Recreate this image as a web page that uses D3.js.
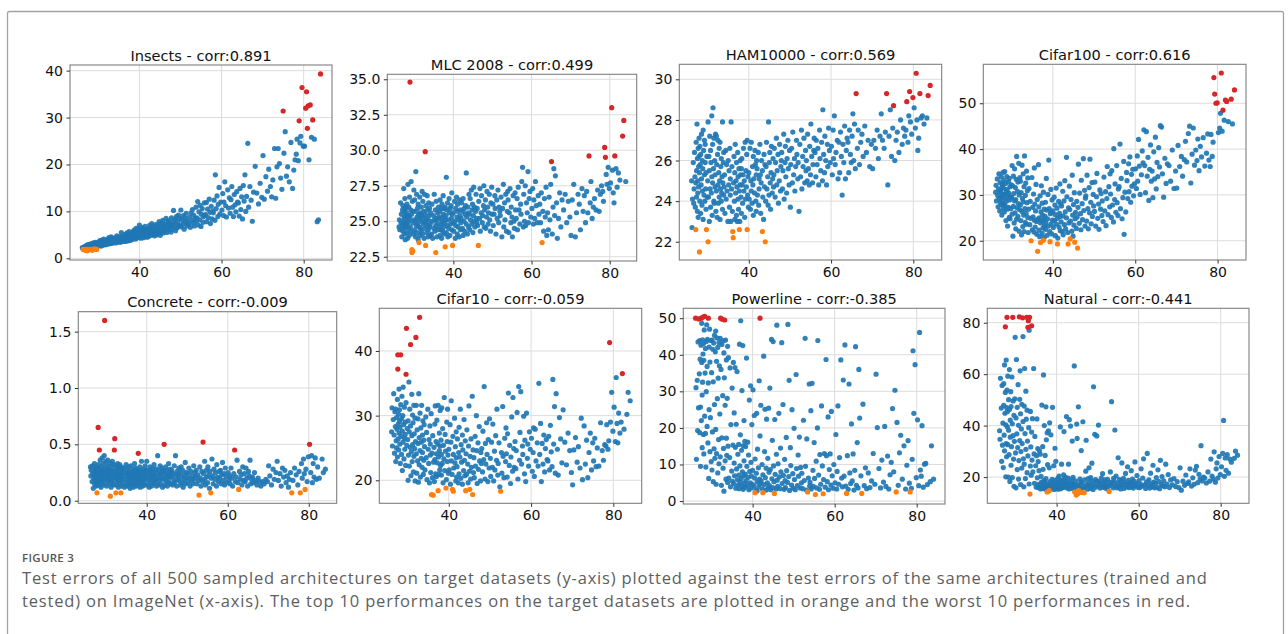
<!DOCTYPE html>
<html>
<head>
<meta charset="utf-8">
<script src="https://cdn.jsdelivr.net/npm/d3@7"></script>
<style>
  body { margin: 0; background: #fff; }
  svg { display: block; }
</style>
</head>
<body>
<svg id="fig" width="1288" height="634"></svg>
<script>
// ImageNet test error (%) of each sampled architecture, grouped in 2-point bins (26–28, 28–30, ... 82–84)
const imagenetErr = [
  [26.1,26.2,26.3,26.5,26.6,26.7,26.8,26.9,27.0,27.1,27.1,27.2,27.3,27.3,27.4,27.5,27.5,27.6,27.6,27.7,27.7,27.8,27.8,27.9,27.9,28.0],
  [28.0,28.1,28.1,28.2,28.3,28.3,28.4,28.5,28.5,28.6,28.7,28.7,28.8,28.9,28.9,29.0,29.1,29.2,29.2,29.3,29.4,29.4,29.5,29.6,29.6,29.7,29.8,29.9],
  [30.0,30.1,30.1,30.2,30.3,30.4,30.4,30.5,30.6,30.7,30.7,30.8,30.9,31.0,31.0,31.1,31.2,31.2,31.3,31.4,31.5,31.5,31.6,31.7,31.8,31.8,31.9,32.0],
  [32.1,32.1,32.2,32.3,32.4,32.5,32.5,32.6,32.7,32.8,32.8,32.9,33.0,33.0,33.1,33.2,33.3,33.3,33.4,33.5,33.6,33.6,33.7,33.8,33.9,33.9,34.0],
  [34.1,34.2,34.4,34.5,34.6,34.7,34.9,35.0,35.1,35.2,35.3,35.4,35.5,35.5,35.6,35.7,35.8,35.9,36.0,36.1,36.2,36.3],
  [36.4,36.5,36.6,36.6,36.7,36.8,36.9,37.0,37.0,37.1,37.2,37.3,37.4,37.4,37.5,37.6,37.7,37.7,37.8,37.9,37.9,38.0],
  [38.1,38.2,38.2,38.3,38.4,38.5,38.6,38.7,38.8,38.9,39.0,39.1,39.2,39.3,39.4,39.5,39.6,39.6,39.7,39.8,39.9],
  [40.0,40.1,40.3,40.4,40.5,40.6,40.6,40.8,40.9,41.0,41.1,41.1,41.2,41.4,41.5,41.6,41.7,41.8,41.8,41.9],
  [42.0,42.1,42.3,42.4,42.5,42.5,42.7,42.8,42.9,43.0,43.1,43.3,43.3,43.4,43.6,43.7,43.8,43.9,44.0],
  [44.1,44.2,44.3,44.4,44.6,44.7,44.8,44.9,45.0,45.1,45.2,45.3,45.4,45.5,45.7,45.8,45.9,46.0],
  [46.1,46.2,46.4,46.5,46.7,46.8,46.9,47.1,47.2,47.4,47.5,47.7,47.8,47.9],
  [48.0,48.2,48.3,48.5,48.6,48.8,48.9,49.0,49.2,49.3,49.5,49.6,49.8,49.9],
  [50.1,50.2,50.4,50.6,50.7,50.9,51.1,51.2,51.4,51.6,51.7,51.9],
  [52.0,52.2,52.4,52.6,52.8,52.9,53.1,53.2,53.4,53.6,53.8,53.9],
  [54.0,54.2,54.3,54.5,54.7,54.8,55.0,55.1,55.3,55.5,55.6,55.8,55.9],
  [56.1,56.3,56.4,56.6,56.8,57.0,57.2,57.3,57.5,57.7,57.9],
  [58.0,58.2,58.4,58.5,58.7,58.9,59.1,59.2,59.4,59.6,59.8],
  [60.1,60.3,60.5,60.6,60.8,61.0,61.2,61.5,61.7,61.9],
  [62.1,62.3,62.5,62.7,62.9,63.1,63.3,63.5,63.7,63.9],
  [64.1,64.3,64.5,64.7,64.9,65.1,65.3,65.5,65.7,65.9],
  [66.1,66.4,66.6,66.9,67.2,67.5,67.8],
  [68.2,68.6,69.0,69.4,69.8],
  [70.1,70.4,70.8,71.2,71.5,71.9],
  [72.2,72.5,72.9,73.2,73.5,73.8],
  [74.1,74.4,74.7,75.0,75.2,75.5,75.8],
  [76.1,76.5,76.9,77.3,77.6,77.9],
  [78.2,78.4,78.7,78.9,79.1,79.3,79.6,79.9],
  [80.2,80.5,80.7,80.9,81.1,81.3,81.6,81.9],
  [82.2,82.6,83.3,83.6,84.1]
];

// Target-dataset test errors, same architectures and same bin order
const insectsErr = [
  [2.3,2.2,1.9,2.4,1.8,2.5,2.1,1.7,2.6,2.3,1.9,2.8,2.4,1.6,2.2,2.7,2.5,2.9,1.8,2.3,2.6,3.0,2.4,2.7,2.2,2.5],
  [2.6,1.9,2.9,2.4,3.1,2.7,2.3,2.8,1.7,3.2,2.5,2.9,2.6,3.3,2.4,2.0,2.8,3.0,2.6,3.4,2.7,2.3,3.1,1.9,2.8,3.2,2.6,3.0],
  [3.1,2.7,3.5,2.9,3.3,3.8,2.8,3.2,3.6,3.0,2.6,3.4,3.9,3.1,2.8,3.5,3.3,3.0,4.1,3.2,2.9,3.6,3.4,3.1,3.8,2.9,3.5,3.3],
  [3.3,3.7,3.0,4.1,3.5,3.2,3.9,4.4,3.4,3.1,3.7,4.0,3.6,3.3,4.6,3.8,3.2,3.5,4.2,3.9,3.4,3.7,4.3,3.6,3.3,4.0,3.8],
  [3.6,4.2,3.3,4.8,3.9,4.4,3.5,4.1,4.6,3.8,4.3,3.4,4.0,3.7,5.5,4.5,3.9,4.2,3.6,4.9,4.1,3.8],
  [4.0,4.6,3.6,5.1,4.3,4.8,3.9,5.4,4.4,4.1,3.7,5.0,4.5,4.2,5.7,4.0,4.7,3.8,5.2,4.4,4.9,4.1],
  [4.3,5.0,4.0,5.6,4.6,5.3,4.2,6.0,4.8,4.5,5.5,4.1,6.4,4.9,5.2,4.4,5.8,4.7,6.2,5.1,4.5],
  [7.1,4.6,5.4,4.3,6.0,5.0,6.6,4.8,5.7,4.4,5.2,6.3,4.9,6.8,5.5,4.7,5.9,6.1,5.1,4.5],
  [5.0,6.2,4.7,5.6,7.0,5.3,6.5,4.9,5.9,7.4,5.4,6.1,5.1,6.8,5.7,4.8,6.4,5.5,7.2],
  [5.3,6.6,5.0,7.1,5.8,6.2,7.8,5.5,6.9,4.9,6.4,7.5,5.7,6.0,8.1,5.4,6.7,7.3],
  [5.8,7.2,6.4,8.5,5.5,6.9,7.7,6.1,8.0,6.6,7.4,5.6,8.6,7.0],
  [6.2,7.6,10.2,6.8,8.3,5.9,7.3,8.9,6.5,7.9,9.2,6.9,8.5,7.1],
  [10.3,6.7,8.2,7.3,9.1,6.2,8.6,7.7,9.6,6.9,8.0,7.4],
  [7.2,8.8,6.6,9.7,8.1,10.4,7.6,9.2,6.9,8.5,10.9,7.9],
  [8.6,12.1,7.1,9.9,8.2,11.3,6.8,9.4,10.6,7.7,8.9,11.8,9.1],
  [9.3,11.9,7.8,10.5,8.7,12.6,9.8,7.4,11.1,8.4,10.1],
  [9.7,12.4,8.1,17.8,10.6,13.3,8.9,11.5,15.1,9.4,12.0],
  [10.3,13.8,9.1,12.0,16.3,11.2,8.8,14.6,10.7,12.9],
  [9.6,12.5,15.3,10.9,8.9,13.6,11.4,9.9,14.2,12.0],
  [11.8,9.0,14.9,10.4,13.1,8.4,15.5,12.2,17.8,10.0],
  [13.2,24.5,10.9,15.3,12.4,7.9,14.1],
  [19.6,13.9,11.6,16.0,13.0],
  [21.9,12.6,17.4,14.3,19.0,15.3],
  [13.1,16.7,23.4,12.8,19.5,23.4],
  [20.2,17.1,14.7,31.4,22.4,27.0,17.5],
  [19.5,16.3,24.7,14.9,18.8,21.0],
  [22.2,25.4,20.8,29.3,24.6,26.0,36.4,23.9],
  [23.9,32.0,35.5,27.7,32.5,21.0,32.7,25.8],
  [29.5,25.4,7.8,8.2,39.3]
];

const mlcErr = [
  [24.6,25.1,24.4,26.3,24.9,25.5,23.9,24.7,25.8,24.3,26.1,25.0,24.5,27.3,25.3,24.1,25.7,24.8,26.6,25.2,23.7,24.6,25.9,24.9,26.0,25.4],
  [25.6,24.2,26.2,24.8,25.3,23.8,27.6,25.0,24.5,26.0,25.4,24.0,26.7,34.8,25.2,24.6,25.8,27.8,24.3,25.5,23.0,22.8,26.4,22.9,24.9,25.7,24.1,27.2],
  [25.1,24.4,26.5,25.7,23.9,28.5,25.0,24.7,26.9,25.3,24.2,25.9,24.8,26.2,23.7,25.5,23.5,24.6,25.2,26.7,24.0,25.6,24.5,25.0,26.0,24.3,25.4,27.1],
  [25.3,24.1,26.4,24.8,25.7,23.8,25.0,26.9,24.5,29.9,25.5,23.3,24.9,26.1,25.2,24.2,26.8,24.7,25.8,23.9,25.1,24.4,26.3,25.4,24.6,25.9,24.0],
  [24.8,25.6,24.1,26.2,25.0,23.8,25.4,24.5,26.9,25.1,24.3,25.8,22.8,24.7,26.4,25.2,23.9,24.9,25.6,24.4,26.0,25.3],
  [24.6,25.7,24.0,26.5,25.2,24.4,25.9,24.8,23.8,26.2,25.0,24.3,25.5,26.8,24.6,25.3,24.1,25.9,24.9,23.2,26.0,25.1],
  [25.4,24.2,28.1,25.8,24.7,26.3,23.9,25.1,24.5,26.6,25.6,24.0,25.9,24.8,26.1,25.2,24.4,27.0,25.5,23.3,24.9],
  [25.6,24.3,26.4,25.0,23.8,25.9,24.7,26.7,25.3,24.1,25.7,26.2,24.6,25.1,23.9,26.5,25.4,24.4,25.8,24.9],
  [25.2,26.3,24.5,25.7,24.0,26.6,25.0,25.9,24.3,25.5,26.1,24.8,28.4,25.3,24.1,26.0,25.6,24.6,26.9],
  [25.5,24.4,26.6,25.1,27.2,24.8,25.8,26.2,24.2,25.4,27.4,25.0,26.0,24.6,25.7,26.9,25.2,24.9],
  [25.9,24.7,23.3,26.4,25.2,27.3,24.3,25.6,26.8,24.9,25.4,26.1,27.5,24.6],
  [25.8,26.5,24.5,25.3,27.1,26.0,24.8,25.6,26.9,25.1,24.3,26.3,27.4,25.5],
  [26.2,24.7,25.5,26.8,25.9,24.1,26.5,25.2,27.2,24.9,26.0,25.7],
  [25.4,26.7,23.9,25.9,27.6,24.6,26.3,25.1,26.9,24.3,25.7,27.1],
  [26.5,24.2,25.6,27.3,24.9,26.0,25.3,23.9,26.8,25.0,24.5,27.0,25.8],
  [25.2,26.6,24.4,27.4,25.8,24.8,26.2,25.5,27.8,28.8,24.6],
  [26.9,25.0,27.5,24.7,26.3,25.6,28.5,24.9,26.6,27.1,25.3],
  [25.9,27.3,24.8,26.5,25.2,27.8,26.1,24.9,26.8,25.5],
  [26.2,24.9,27.0,23.5,25.7,24.3,26.6,25.3,27.4,24.0],
  [25.6,24.4,26.7,25.1,27.6,29.2,24.1,26.0,28.7,25.4],
  [28.2,26.3,23.8,25.2,27.0,24.6,26.5],
  [25.8,26.9,24.9,26.4,25.3],
  [24.0,26.5,27.6,23.9,25.6,26.9],
  [26.2,24.4,27.3,25.7,26.8,24.9],
  [27.1,25.6,29.6,26.3,27.8,25.2,26.0],
  [26.6,25.8,27.2,25.7,26.9,27.5],
  [27.1,26.4,30.2,29.5,28.3,27.6,28.8,27.3],
  [27.7,33.0,28.6,27.0,26.3,29.6,28.7,27.4],
  [28.4,27.9,31.0,32.1,27.8]
];

const hamErr = [
  [25.0,22.7,24.1,25.9,23.9,24.6,26.4,25.2,23.7,22.6,24.9,26.9,25.5,24.2,27.8,23.5,26.1,25.0,24.4,26.6,23.2,25.7,24.7,27.1,26.2,21.5],
  [25.4,26.7,24.0,25.8,23.4,26.3,24.8,27.3,25.1,23.8,26.0,24.5,25.6,27.5,23.1,26.5,24.3,25.3,27.0,24.0,25.9,26.8,24.6,23.6,25.4,22.6,26.2,24.2],
  [25.0,22.0,27.9,24.2,26.2,23.0,25.5,27.2,24.6,26.5,23.7,25.9,24.4,28.2,25.2,23.3,26.8,24.9,28.6,25.6,24.0,27.1,23.9,26.0,24.7,25.3,27.3,23.5],
  [24.5,27.2,25.8,23.2,26.3,24.8,27.0,23.9,25.4,26.6,24.2,25.0,23.1,26.9,24.6,25.7,24.0,26.1,24.4,25.2,27.9,23.6,24.9,25.9,24.3,26.4,24.7],
  [25.3,23.4,26.5,24.1,25.8,24.5,23.0,26.0,24.8,25.5,23.7,26.6,24.3,25.1,23.0,27.9,24.6,25.7,23.5,22.5,22.2,24.9],
  [26.2,24.0,25.4,23.1,26.8,24.4,25.0,23.3,25.9,24.7,23.0,26.4,24.1,25.2,23.6,25.6,22.6,24.5,23.0,26.0,24.8,25.3],
  [24.2,25.6,23.4,26.1,24.8,23.9,25.3,26.6,24.5,25.0,23.2,26.9,24.1,25.5,24.7,26.3,22.6,27.0,24.3,25.2,23.7],
  [25.4,24.1,26.6,23.6,25.0,24.5,26.9,23.9,25.7,24.8,26.2,23.3,25.1,24.4,26.5,25.8,24.0,25.3,23.5,26.0],
  [25.6,24.3,26.4,23.8,25.1,24.6,26.8,25.3,23.4,24.9,26.0,22.5,25.5,24.2,23.1,26.3,24.7,25.8,22.0],
  [24.0,25.7,26.9,24.6,25.2,23.8,27.9,24.3,25.9,26.4,24.9,23.6,25.4,26.7,24.4,25.1,26.1,24.7],
  [25.3,26.6,24.2,25.9,27.1,24.8,25.5,26.3,23.9,25.0,26.8,24.5,25.7,26.0],
  [26.4,24.6,25.5,27.3,24.1,25.9,26.7,25.2,24.4,26.1,27.0,25.6,24.8,26.5],
  [23.7,25.8,26.6,24.9,27.4,25.3,26.1,24.5,25.7,27.0,26.3,25.1],
  [25.9,23.5,26.8,25.2,27.5,24.6,26.2,25.7,27.1,24.9,26.5,25.5],
  [26.0,25.0,27.3,25.6,24.8,26.7,25.3,27.8,26.2,24.9,25.8,26.5,27.1],
  [26.4,25.2,27.0,25.8,26.6,24.8,27.5,26.1,25.5,26.9,25.0],
  [28.5,26.3,25.4,27.2,26.0,24.8,26.8,25.7,27.6,26.5,25.9],
  [26.7,25.3,27.5,26.1,28.2,25.8,26.4,27.0,25.1,26.9],
  [25.4,27.4,26.2,24.3,26.8,25.9,27.7,25.1,26.5,27.1],
  [26.9,25.4,27.5,26.3,25.9,27.2,28.3,26.0,27.8,25.6],
  [29.3,26.6,27.5,25.8,26.9,27.3,26.2],
  [27.7,26.4,27.0,25.7,26.8],
  [25.6,27.0,26.6,27.5,26.1,27.2],
  [28.3,27.0,26.6,27.4,29.3,24.8],
  [27.2,28.5,26.2,27.6,28.7,26.0,27.0],
  [27.4,26.4,28.0,26.8,27.6,27.2],
  [27.5,28.9,26.9,28.2,29.4,27.9,27.3,29.1],
  [28.6,27.6,30.3,28.0,26.5,27.1,29.3,28.1],
  [28.2,27.8,28.1,29.2,29.7]
];

const cifar100Err = [
  [30.6,32.1,28.7,33.5,29.9,27.4,31.3,34.6,29.2,30.8,26.5,32.7,28.3,31.0,29.6,33.9,27.9,30.3,25.6,31.8,29.0,32.4,28.1,30.0,34.9,27.1],
  [31.5,28.0,33.2,26.3,30.1,35.1,27.6,29.3,32.5,24.4,30.7,28.6,34.0,26.9,31.2,23.2,29.8,32.9,27.3,30.4,25.1,33.6,28.9,31.8,24.8,29.5,27.0,32.2],
  [29.4,36.4,25.8,32.0,21.0,27.5,34.1,30.3,23.9,28.7,35.7,26.1,31.6,22.6,29.0,33.4,24.7,38.4,27.2,30.8,25.3,32.8,28.1,36.9,22.1,30.0,26.8,33.8],
  [27.8,33.0,24.4,30.5,21.3,36.5,26.4,29.2,23.1,34.6,28.5,25.6,31.8,22.0,38.5,27.0,29.9,24.0,32.6,26.0,35.2,23.6,28.3,30.9,25.1,33.7,21.8],
  [26.9,31.4,23.5,28.6,24.9,20.0,33.8,22.4,27.3,25.2,30.2,21.9,35.9,24.5,28.0,23.0,26.5,32.3,24.2,21.4,29.0,17.7],
  [24.7,36.6,22.3,27.4,25.0,20.9,29.8,19.6,23.9,26.3,32.0,24.3,21.6,28.2,25.6,22.8,20.1,30.6,24.6,20.7,26.9,23.3],
  [25.3,22.5,28.4,24.0,33.6,26.7,21.2,24.8,30.1,23.2,37.6,27.0,22.0,19.8,25.9,31.2,23.7,26.2,21.5,28.9,24.5],
  [26.5,22.9,29.5,24.4,27.8,21.1,25.7,31.5,23.6,27.1,19.3,24.9,20.6,28.6,23.0,26.0,32.4,22.2,25.3,28.0],
  [24.1,27.6,22.0,30.8,25.4,21.3,28.7,23.5,33.1,26.3,22.6,38.2,25.0,29.6,21.8,19.3,27.2,23.9,31.9],
  [26.8,20.4,24.3,29.0,22.1,34.3,25.6,21.0,27.9,23.4,30.5,19.7,24.8,26.2,22.7,28.6,25.2,18.4],
  [27.3,36.7,23.8,30.4,25.9,22.4,33.2,28.1,24.6,37.9,26.6,31.0,23.2,29.3],
  [29.8,24.3,34.3,27.0,22.6,31.6,26.1,37.8,28.4,23.7,32.7,25.3,30.1,27.6],
  [26.4,32.8,23.2,29.6,34.7,24.9,28.0,22.5,31.1,26.9,30.3,25.5],
  [28.7,24.2,33.9,26.5,30.7,23.3,29.2,36.2,25.7,31.8,27.4,34.6],
  [30.2,25.1,35.3,27.8,24.1,40.1,29.0,32.4,26.2,36.4,28.3,25.5,31.3],
  [31.8,41.1,27.0,33.6,24.8,29.4,37.3,21.4,30.6,26.3,34.9],
  [33.1,29.2,36.8,30.7,38.3,28.4,34.5,31.9,35.6,29.8,32.4],
  [35.7,31.4,38.5,33.0,42.1,36.3,30.1,34.4,39.6,37.0],
  [44.2,36.4,30.5,43.8,34.1,38.2,28.8,35.6,40.9,33.0],
  [35.2,29.4,39.4,33.5,42.6,31.3,37.1,34.0,40.3,36.1],
  [45.1,44.8,34.6,29.5,38.0,32.5,36.8],
  [36.4,33.0,39.8,31.4,35.2],
  [31.5,40.8,36.2,38.4,34.1,37.7],
  [41.7,37.2,43.4,45.0,32.6,38.9],
  [44.6,36.5,39.8,37.5,42.2,35.3,40.6],
  [38.3,42.5,36.3,39.1,43.3,37.6],
  [36.2,43.2,38.4,41.5,55.6,52.0,50.0,50.1],
  [43.6,44.6,47.8,56.6,43.9,48.5,46.3,50.7],
  [50.4,46.0,50.9,45.5,52.9]
];

const concreteErr = [
  [0.30,0.22,0.27,0.17,0.31,0.24,0.11,0.20,0.26,0.15,0.33,0.21,0.28,0.18,0.24,0.13,0.30,0.22,0.19,0.07,0.26,0.16,0.29,0.23,0.14,0.65],
  [0.25,0.19,0.32,0.14,0.45,0.23,0.28,0.17,0.36,0.21,0.26,0.12,0.30,0.19,0.24,0.38,0.16,0.27,0.21,0.33,0.14,0.25,0.40,1.60,0.18,0.29,0.22,0.35],
  [0.20,0.27,0.13,0.31,0.24,0.17,0.36,0.22,0.28,0.15,0.25,0.19,0.33,0.04,0.21,0.26,0.12,0.30,0.18,0.24,0.35,0.16,0.27,0.21,0.14,0.32,0.23,0.45],
  [0.55,0.26,0.19,0.31,0.07,0.23,0.14,0.28,0.20,0.33,0.17,0.25,0.12,0.29,0.22,0.18,0.32,0.24,0.15,0.27,0.07,0.21,0.30,0.13,0.25,0.19,0.28],
  [0.22,0.16,0.29,0.12,0.25,0.19,0.32,0.14,0.23,0.27,0.17,0.21,0.30,0.13,0.24,0.18,0.26,0.11,0.22,0.31,0.15,0.20],
  [0.24,0.15,0.28,0.19,0.12,0.26,0.21,0.33,0.17,0.23,0.14,0.29,0.20,0.25,0.13,0.27,0.18,0.22,0.16,0.42,0.24,0.19],
  [0.27,0.15,0.22,0.30,0.12,0.19,0.25,0.35,0.17,0.23,0.13,0.28,0.20,0.16,0.26,0.22,0.31,0.14,0.19,0.24,0.27],
  [0.35,0.21,0.14,0.27,0.18,0.24,0.12,0.30,0.20,0.16,0.26,0.22,0.13,0.28,0.19,0.25,0.15,0.23,0.32,0.18],
  [0.22,0.16,0.28,0.13,0.25,0.19,0.40,0.21,0.14,0.27,0.18,0.24,0.31,0.15,0.23,0.20,0.29,0.12,0.26],
  [0.19,0.26,0.50,0.14,0.23,0.30,0.17,0.21,0.27,0.13,0.24,0.19,0.33,0.16,0.22,0.28,0.15,0.25],
  [0.21,0.27,0.14,0.24,0.18,0.31,0.16,0.40,0.22,0.13,0.26,0.19,0.23,0.29],
  [0.18,0.25,0.14,0.30,0.21,0.16,0.27,0.12,0.23,0.19,0.34,0.15,0.25,0.20],
  [0.24,0.16,0.29,0.20,0.13,0.26,0.18,0.22,0.15,0.31,0.19,0.25],
  [0.21,0.27,0.15,0.23,0.18,0.05,0.30,0.20,0.13,0.26,0.17,0.52],
  [0.24,0.19,0.35,0.14,0.27,0.21,0.16,0.30,0.23,0.11,0.26,0.07,0.20],
  [0.37,0.22,0.15,0.28,0.19,0.25,0.13,0.32,0.21,0.17,0.26],
  [0.20,0.27,0.15,0.23,0.34,0.18,0.24,0.14,0.29,0.21,0.16],
  [0.25,0.18,0.22,0.15,0.29,0.20,0.13,0.24,0.45,0.17],
  [0.21,0.36,0.16,0.10,0.26,0.19,0.23,0.14,0.30,0.18],
  [0.24,0.17,0.29,0.20,0.13,0.26,0.22,0.36,0.15,0.19],
  [0.21,0.16,0.25,0.18,0.14,0.20,0.17],
  [0.13,0.17,0.15,0.19,0.17],
  [0.31,0.22,0.14,0.28,0.19,0.25],
  [0.35,0.18,0.24,0.13,0.29,0.21],
  [0.27,0.16,0.22,0.12,0.19,0.25,0.07],
  [0.18,0.29,0.23,0.14,0.26,0.07],
  [0.33,0.20,0.37,0.24,0.10,0.28,0.17,0.39],
  [0.50,0.25,0.40,0.16,0.33,0.21,0.38,0.19],
  [0.30,0.20,0.37,0.25,0.28]
];

const cifar10Err = [
  [27.5,31.2,25.3,29.4,33.4,27.0,24.2,30.6,28.3,22.9,31.0,26.1,29.7,25.0,27.9,32.5,23.6,39.4,37.2,28.7,26.4,30.2,24.7,34.1,27.3,29.1],
  [30.9,25.6,28.2,22.6,39.4,31.7,26.8,29.5,24.0,33.0,27.6,21.5,30.0,25.9,34.4,28.6,23.3,26.5,31.3,24.8,29.0,27.1,22.3,32.0,36.4,43.5,25.4,28.0],
  [26.3,20.0,29.2,23.9,35.2,27.5,22.2,31.0,25.1,41.0,28.4,20.7,24.4,33.3,26.9,22.9,30.1,25.5,28.9,21.3,23.7,31.6,27.2,24.9,19.9,29.6,26.0,42.1],
  [24.1,31.6,21.1,27.8,23.0,29.5,25.7,19.7,33.4,22.4,26.6,45.2,24.6,30.4,20.5,28.1,23.4,25.9,31.6,22.0,27.0,24.3,29.2,20.9,26.2,23.1,28.6],
  [25.2,21.6,29.8,23.5,27.4,20.1,31.0,24.8,22.6,26.3,19.6,28.4,23.9,25.6,21.2,30.3,17.8,24.2,20.4,26.9,17.7,22.8],
  [25.1,19.8,28.7,23.2,31.5,21.0,26.0,24.1,20.6,29.3,22.7,25.6,18.4,31.6,23.6,20.9,27.3,24.6,21.6,25.3,30.8,22.3],
  [26.2,20.8,24.0,31.2,22.6,28.0,19.6,25.4,23.3,32.8,21.5,27.1,24.5,18.8,20.1,29.0,22.9,26.0,31.0,23.9,21.1],
  [24.8,21.6,28.6,19.4,25.9,23.0,32.3,20.9,18.6,26.8,18.3,24.0,21.9,29.6,22.7,25.2,19.9,27.5,23.5,20.5],
  [22.1,26.4,19.6,24.3,28.2,21.0,23.6,31.0,20.3,25.5,22.8,27.0,19.4,24.7,21.5,29.4,23.1,20.7,26.1],
  [18.4,24.1,20.9,27.8,22.5,19.6,25.3,31.5,21.4,18.6,23.7,20.2,26.4,22.0,33.0,17.8,24.7,21.2],
  [23.5,20.4,26.8,22.2,30.0,24.6,19.5,25.8,21.7,28.3,23.0,19.9,24.3,22.6],
  [24.9,21.3,27.6,23.2,34.5,20.2,25.7,22.5,28.9,24.0,19.8,26.3,21.9,29.5],
  [23.4,20.6,25.9,22.0,28.7,19.9,24.5,21.6,26.9,23.1,31.0,20.8],
  [22.6,25.8,19.0,18.3,24.3,21.1,31.4,23.7,20.4,26.5,22.9,28.1],
  [24.1,20.5,27.2,33.5,22.3,25.4,19.5,23.6,29.8,21.4,32.8,24.9,22.0],
  [26.0,21.8,24.6,30.5,20.2,34.5,23.1,27.4,33.7,22.5,25.3],
  [24.0,29.9,21.0,26.2,19.8,30.4,23.4,25.6,22.2,27.5,24.8],
  [26.5,21.4,24.3,28.1,20.6,27.9,23.0,25.8,22.2,35.0],
  [24.0,28.8,19.8,25.7,22.5,27.0,21.3,24.9,26.3,23.2],
  [23.0,26.8,21.6,28.5,24.4,22.1,35.6,25.6,31.4,21.1],
  [33.4,24.8,20.8,29.7,26.4,22.7,30.9],
  [25.9,22.4,27.3,24.6,21.2],
  [19.3,24.7,26.6,22.8,25.2,21.9],
  [29.6,20.1,28.4,22.5,26.2,20.4],
  [24.3,27.3,21.6,25.8,23.0,26.5,22.1],
  [25.0,22.2,28.9,24.6,23.1,25.5],
  [25.3,28.6,24.8,26.1,41.3,29.0,33.6,27.6],
  [31.3,26.0,35.9,28.8,25.8,30.4,27.3,29.0],
  [36.5,27.9,30.2,33.6,32.3]
];

const powerlineErr = [
  [50.0,31.0,11.4,33.0,19.3,43.5,25.5,49.8,34.8,43.9,18.7,38.8,25.7,9.5,42.6,50.0,22.0,37.9,48.6,14.6,29.0,44.1,32.5,50.3,40.2,18.2],
  [43.0,38.5,12.9,46.8,50.5,23.2,35.0,41.7,18.5,9.3,43.6,29.9,48.2,20.4,36.8,44.2,15.9,50.0,32.3,6.2,42.1,25.0,47.0,13.5,38.0,22.8,43.9,10.8],
  [35.1,44.0,8.5,18.9,41.5,5.3,32.6,43.2,14.3,26.4,45.3,11.7,40.8,19.6,46.5,4.6,38.2,13.0,44.6,28.0,42.0,7.7,33.6,16.8,43.3,10.2,37.0,23.8],
  [44.5,12.1,50.0,36.0,4.3,42.8,17.3,49.7,28.8,9.0,43.8,14.4,40.5,2.7,33.7,49.5,11.0,26.2,44.0,6.0,17.2,38.6,12.5,28.1,5.1,42.3,15.0],
  [39.2,6.3,11.9,36.4,3.9,20.9,8.2,30.9,5.4,15.3,37.9,4.7,10.4,24.1,6.9,36.5,14.7,3.5,21.0,8.8,35.4,5.8],
  [12.8,4.4,15.5,7.1,3.4,42.9,9.6,5.1,18.1,49.3,6.2,13.9,4.0,30.2,8.0,42.5,15.1,3.2,6.9,22.0,11.0,4.9],
  [16.3,7.4,3.8,14.9,5.6,39.1,9.5,4.3,16.1,6.5,12.6,3.1,27.6,8.1,5.0,31.5,10.6,3.6,6.8,20.9,4.6],
  [8.4,30.4,4.1,23.4,6.3,2.3,11.5,3.0,7.6,24.0,5.2,2.8,14.2,9.1,3.9,32.9,6.0,50.0,17.8,4.7],
  [26.2,5.5,10.0,3.3,2.3,7.2,39.6,4.5,13.5,25.1,6.4,3.0,9.0,22.4,5.0,11.7,3.6,25.4,7.9],
  [4.2,30.9,8.6,3.1,44.2,6.1,16.6,3.7,43.6,9.6,5.3,2.1,22.3,7.3,3.3,12.8,48.1,5.7],
  [4.0,10.2,24.0,6.6,3.4,14.5,8.0,43.3,4.8,26.4,7.0,3.2,11.4,5.6],
  [3.7,17.4,8.3,5.1,48.3,6.7,33.0,2.9,14.6,9.7,4.4,25.0,7.5,3.5],
  [19.9,5.9,3.1,34.6,8.9,4.2,12.6,6.8,17.5,3.6,9.2,5.0],
  [7.6,3.4,22.1,5.6,44.5,9.5,3.0,17.0,2.5,6.3,32.0,4.1],
  [5.1,24.7,3.3,32.2,8.4,4.0,16.0,6.2,1.8,10.9,3.6,20.0,43.9],
  [7.1,3.2,12.7,4.6,26.0,9.6,2.0,5.9,13.0,3.8,38.7],
  [12.4,5.3,23.0,3.1,8.6,12.9,4.4,24.5,6.9,3.5,10.0],
  [5.0,18.2,3.3,8.1,26.0,4.6,11.9,38.6,6.3,3.9],
  [33.1,6.8,42.7,4.1,2.1,12.4,3.2,32.0,7.7,4.8],
  [21.1,5.5,12.9,3.0,8.4,42.2,4.3,16.0,3.6,36.0],
  [22.7,6.9,2.1,26.5,4.2,9.1,3.4],
  [7.7,3.7,5.5,13.0,4.6],
  [34.7,20.1,8.9,3.6,11.2,5.2],
  [20.4,4.0,12.3,3.3,7.2,10.6],
  [25.3,8.0,30.3,2.5,21.5,4.3,13.2],
  [18.0,6.0,15.1,3.3,9.8,16.5],
  [4.9,2.5,3.5,11.4,41.1,24.0,37.3,6.4],
  [22.2,4.2,46.1,8.5,6.8,20.6,3.8,10.1],
  [10.3,4.5,5.3,15.1,6.0]
];

const naturalErr = [
  [38.0,34.7,58.4,46.8,26.1,55.6,32.4,41.0,23.7,56.3,47.9,36.3,63.6,30.2,44.8,78.4,52.9,20.1,40.3,65.5,33.0,47.0,27.9,82.1,53.8,39.5],
  [45.4,32.6,59.2,20.0,50.1,38.2,28.7,46.3,61.8,18.3,42.1,35.5,53.2,24.6,47.4,31.8,58.9,40.7,19.8,82.1,36.1,49.6,27.0,44.0,16.4,33.9,50.4,74.3],
  [29.4,43.0,15.8,65.7,36.8,22.9,47.1,31.5,55.9,19.2,40.1,26.4,82.3,50.2,34.2,61.3,17.1,44.6,29.9,38.7,23.5,48.3,33.0,81.9,74.6,41.6,27.1,16.2],
  [47.6,25.0,62.2,36.9,19.4,53.4,30.8,42.5,82.1,21.7,46.0,34.0,78.2,28.2,80.8,39.2,17.3,77.1,82.1,13.4,45.5,24.3,31.7,20.7,78.8,37.5,26.6],
  [42.7,22.0,62.2,29.0,17.6,35.8,24.4,16.1,28.3,42.6,19.7,31.1,15.9,26.0,17.2,22.5,30.2,16.6,28.9,15.4,20.3,18.0],
  [48.0,17.1,31.8,15.6,23.0,59.7,18.6,16.0,40.0,17.9,28.4,15.3,47.3,19.4,34.5,16.5,14.2,37.2,24.8,17.4,15.1,38.0],
  [16.7,14.7,23.6,41.1,18.2,15.5,36.4,17.0,15.9,19.1,47.1,16.3,17.8,24.4,15.2,18.7,31.2,16.1,17.3,26.1,15.7],
  [18.1,16.4,19.5,15.3,17.2,20.4,16.0,17.9,39.5,15.5,18.6,16.8,25.0,17.4,15.9,19.0,20.9,16.2,37.7,17.6],
  [16.6,20.0,17.5,43.5,15.8,18.3,16.9,19.6,25.0,15.4,42.3,17.7,16.2,39.8,18.8,15.6,34.0,17.1,19.9],
  [17.3,15.7,63.2,14.2,18.5,16.1,13.0,40.6,35.0,17.0,13.6,47.3,14.7,16.4,19.2,15.5,18.0,30.3],
  [14.0,17.6,41.5,15.8,13.9,18.9,16.3,22.3,34.3,17.2,15.3,19.4,16.7,23.6],
  [17.9,15.6,19.8,16.5,25.4,18.3,15.2,55.1,17.0,36.6,19.0,16.1,36.0,18.4],
  [16.8,40.2,18.2,15.7,17.5,19.6,16.2,21.3,17.8,15.9,18.9,16.6],
  [17.4,15.5,19.1,16.3,14.4,18.0,22.0,16.9,49.3,17.8,15.8,19.5],
  [18.4,38.3,16.6,20.4,15.8,17.7,27.5,16.2,19.0,17.1,15.4,18.6,25.5],
  [16.9,19.5,15.6,18.0,21.4,17.3,16.1,24.0,18.7,15.9,17.6],
  [17.8,22.5,16.4,19.2,15.7,18.3,25.9,16.8,17.5,20.6,16.0],
  [18.6,15.9,17.2,23.2,16.5,19.6,27.1,17.0,15.6,18.1],
  [29.2,16.8,18.9,15.7,21.5,17.4,16.2,24.6,18.0,15.8],
  [17.6,19.8,16.0,22.8,18.3,15.5,26.5,17.1,20.2,16.6],
  [18.5,16.2,25.0,17.3,21.0,15.9,18.9],
  [17.0,19.4,16.3,18.2,15.9],
  [23.6,14.9,18.4,16.8,20.8,17.5],
  [18.1,23.2,16.5,19.7,17.2,22.7],
  [24.2,17.8,21.1,19.3,32.2,18.5,20.0],
  [19.6,17.7,22.0,18.4,27.0,20.4],
  [19.2,29.8,18.0,23.2,25.5,19.6,28.0,21.0],
  [24.0,29.2,42.0,20.3,27.4,22.6,28.7,21.5],
  [27.0,25.8,27.3,30.1,28.5]
];

const datasetNames = ["Insects", "MLC 2008", "HAM10000", "Cifar100", "Concrete", "Cifar10", "Powerline", "Natural"];
const correlations = ["0.891", "0.499", "0.569", "0.616", "-0.009", "-0.059", "-0.385", "-0.441"];
const targetErrors = [insectsErr, mlcErr, hamErr, cifar100Err, concreteErr, cifar10Err, powerlineErr, naturalErr];
const xTickValues = [40, 60, 80];
const yTickValues = [
  [0, 10, 20, 30, 40],
  [22.5, 25.0, 27.5, 30.0, 32.5, 35.0],
  [22, 24, 26, 28, 30],
  [20, 30, 40, 50],
  [0.0, 0.5, 1.0, 1.5],
  [20, 30, 40],
  [0, 10, 20, 30, 40, 50],
  [20, 40, 60, 80]
];
const yTickFormats = ["d", ".1f", "d", "d", ".1f", "d", "d", "d"];
const highlightCount = 10;

const figureLabel = "FIGURE 3";
const captionLines = [
  "Test errors of all 500 sampled architectures on target datasets (y-axis) plotted against the test errors of the same architectures (trained and",
  "tested) on ImageNet (x-axis). The top 10 performances on the target datasets are plotted in orange and the worst 10 performances in red."
];

// Plot areas (page pixels) and axis limits for each subplot
const layout = [
  { x0: 70,    x1: 332,  y0: 65,    y1: 260,   yDomain: [-0.36, 41.2] },
  { x0: 387.3, x1: 636.7, y0: 74.3, y1: 261,   yDomain: [22.2, 35.35] },
  { x0: 679.3, x1: 941.7, y0: 64.3, y1: 260,   yDomain: [21.1, 30.74] },
  { x0: 983.3, x1: 1246, y0: 64.3,  y1: 260,   yDomain: [15.8, 58.5] },
  { x0: 78.3,  x1: 336.7, y0: 311.7, y1: 503.3, yDomain: [-0.023, 1.677] },
  { x0: 379.3, x1: 641.7, y0: 308.3, y1: 503.3, yDomain: [16.44, 46.6] },
  { x0: 683.3, x1: 945,  y0: 308.3, y1: 504,   yDomain: [-0.8, 52.7] },
  { x0: 987.3, x1: 1249, y0: 308.3, y1: 503.3, yDomain: [9.8, 85.6] }
];
const xDomain = [23.1, 86.9];

const COLORS = { rest: "#1f77b4", best: "#ff7f0e", worst: "#d62728" };
const FONT = "'DejaVu Sans', sans-serif";

const svg = d3.select("#fig");

// Figure frame
svg.append("rect")
  .attr("x", 7.5).attr("y", 11.5)
  .attr("width", 1276).attr("height", 700)
  .attr("rx", 2)
  .attr("fill", "none").attr("stroke", "#a3a3a3").attr("stroke-width", 1.3);

function pairUp(xBins, yBins) {
  const pts = [];
  xBins.forEach((xb, b) => {
    const yb = yBins[b] || [];
    const n = Math.min(xb.length, yb.length);
    for (let i = 0; i < n; i++) pts.push({ x: xb[i], y: yb[i], kind: "rest" });
  });
  // lowest errors = top performances (orange), highest = worst (red)
  const order = d3.range(pts.length).sort((a, b) => pts[a].y - pts[b].y);
  order.slice(0, highlightCount).forEach(i => pts[i].kind = "best");
  order.slice(-highlightCount).forEach(i => pts[i].kind = "worst");
  return pts;
}

datasetNames.forEach((name, k) => {
  const L = layout[k];
  const pts = pairUp(imagenetErr, targetErrors[k]);

  const x = d3.scaleLinear().domain(xDomain).range([L.x0, L.x1]);
  const y = d3.scaleLinear().domain(L.yDomain).range([L.y1, L.y0]);

  const g = svg.append("g");

  // grid
  g.append("g").selectAll("line").data(xTickValues).join("line")
    .attr("x1", d => x(d)).attr("x2", d => x(d))
    .attr("y1", L.y0).attr("y2", L.y1)
    .attr("stroke", "#dcdcdc").attr("stroke-width", 1);
  g.append("g").selectAll("line").data(yTickValues[k]).join("line")
    .attr("x1", L.x0).attr("x2", L.x1)
    .attr("y1", d => y(d)).attr("y2", d => y(d))
    .attr("stroke", "#dcdcdc").attr("stroke-width", 1);

  // points: blue first, then orange, then red on top
  const clip = "clip" + k;
  svg.append("clipPath").attr("id", clip).append("rect")
    .attr("x", L.x0).attr("y", L.y0).attr("width", L.x1 - L.x0).attr("height", L.y1 - L.y0);
  const dots = g.append("g").attr("clip-path", `url(#${clip})`);
  ["rest", "best", "worst"].forEach(kind => {
    dots.append("g").selectAll("circle")
      .data(pts.filter(p => p.kind === kind))
      .join("circle")
      .attr("cx", d => x(d.x))
      .attr("cy", d => y(d.y))
      .attr("r", 2.6)
      .attr("fill", COLORS[kind])
      .attr("fill-opacity", kind === "rest" ? 0.92 : 1);
  });

  // frame
  g.append("rect")
    .attr("x", L.x0).attr("y", L.y0)
    .attr("width", L.x1 - L.x0).attr("height", L.y1 - L.y0)
    .attr("fill", "none").attr("stroke", "#7f7f7f").attr("stroke-width", 1.1);

  // axes
  const xAxis = d3.axisBottom(x).tickValues(xTickValues).tickFormat(d3.format("d"))
    .tickSizeInner(3.5).tickSizeOuter(0).tickPadding(3.5);
  const yAxis = d3.axisLeft(y).tickValues(yTickValues[k]).tickFormat(d3.format(yTickFormats[k]))
    .tickSizeInner(3.5).tickSizeOuter(0).tickPadding(3.5);

  const gx = g.append("g").attr("transform", `translate(0,${L.y1})`).call(xAxis);
  const gy = g.append("g").attr("transform", `translate(${L.x0},0)`).call(yAxis);
  [gx, gy].forEach(a => {
    a.select(".domain").remove();
    a.selectAll(".tick line").attr("stroke", "#333");
    a.selectAll(".tick text").attr("fill", "#111")
      .style("font-family", FONT).style("font-size", "14px");
  });

  // title
  g.append("text")
    .attr("x", (L.x0 + L.x1) / 2).attr("y", L.y0 - 4.5)
    .attr("text-anchor", "middle")
    .style("font-family", FONT).style("font-size", "14.6px").attr("fill", "#111")
    .text(`${name} - corr:${correlations[k]}`);
});

// Caption
svg.append("text")
  .attr("x", 22).attr("y", 562)
  .style("font-family", "'Open Sans', sans-serif").style("font-size", "11.5px")
  .style("font-weight", "600").style("letter-spacing", "0.3px")
  .attr("fill", "#555")
  .text(figureLabel);

const capText = svg.append("g").selectAll("text").data(captionLines).join("text")
  .attr("x", 22).attr("y", (d, i) => 584 + i * 23)
  .style("font-family", "'Open Sans', sans-serif").style("font-size", "16.5px")
  .attr("fill", "#5e5e5e")
  .text(d => d);

// slight extra tracking so the first line runs to the caption's right edge
const firstLine = capText.nodes()[0];
const natural = firstLine.getComputedTextLength();
const spacing = Math.max(0, (1186 - natural) / captionLines[0].length);
capText.style("letter-spacing", spacing.toFixed(2) + "px");
</script>
</body>
</html>
